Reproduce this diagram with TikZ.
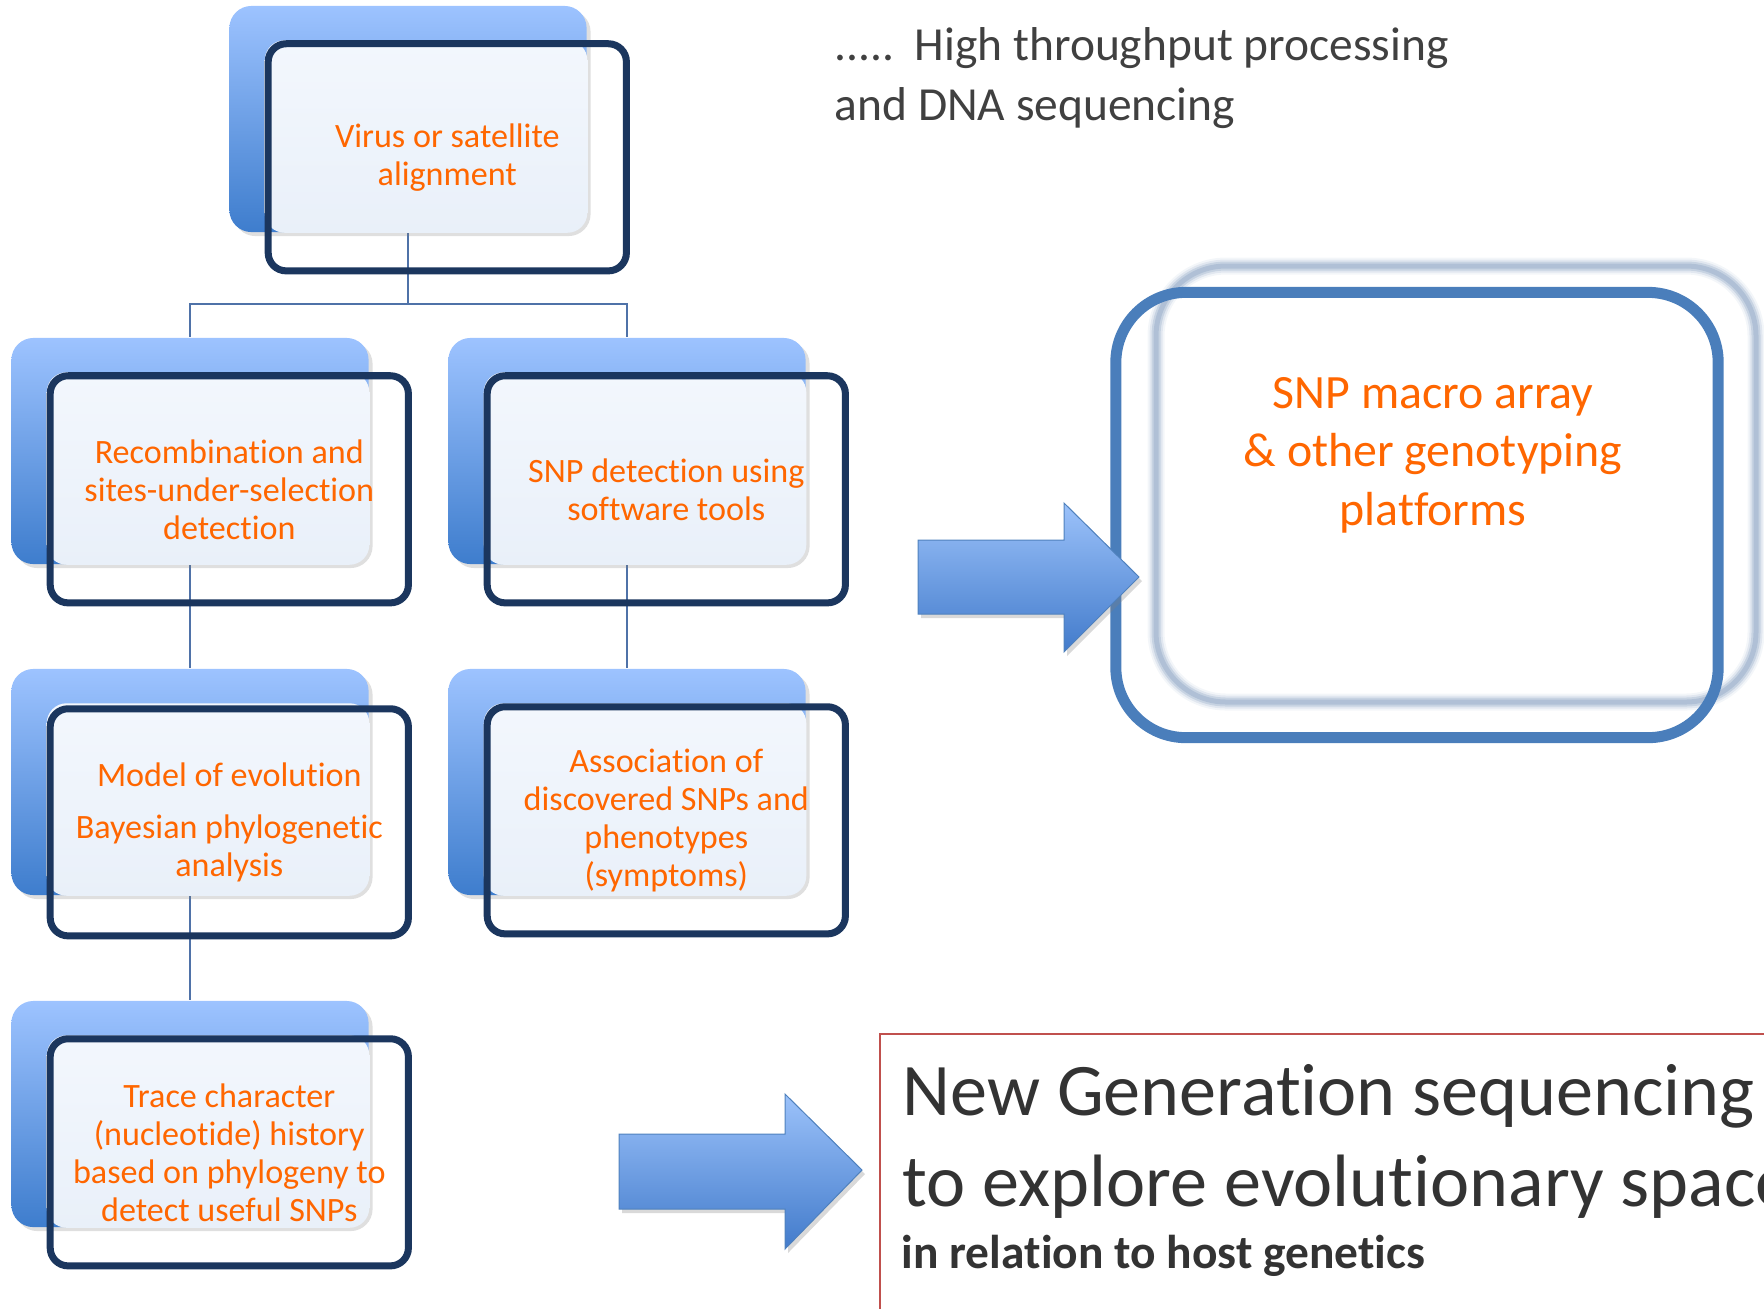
\documentclass[tikz,border=0pt]{standalone}
\usepackage{fontspec}
\setmainfont{Carlito}[Ligatures={NoCommon}]
\usetikzlibrary{shadows,backgrounds}

\definecolor{bleuclair}{RGB}{157,195,255}
\definecolor{bleufonce}{RGB}{62,125,205}
\definecolor{voilehaut}{RGB}{243,247,253}
\definecolor{voilebas}{RGB}{233,240,249}
\definecolor{cadrebleu}{RGB}{27,54,94}
\definecolor{lienbleu}{RGB}{79,114,168}
\definecolor{orangetxt}{RGB}{255,102,0}
\definecolor{snpbleu}{RGB}{74,126,187}
\definecolor{flougris}{RGB}{160,180,206}
\definecolor{flechehaut}{RGB}{156,194,250}
\definecolor{flechebas}{RGB}{66,123,203}
\definecolor{flechebord}{RGB}{79,129,189}
\definecolor{gristexte}{RGB}{64,64,64}
\definecolor{rougecadre}{RGB}{192,80,77}

\begin{document}
\begin{tikzpicture}[x=0.01cm,y=-0.01cm]
		\tikzstyle{fond} = [rectangle,rounded corners=0.22cm,minimum width=3.57cm,minimum height=2.26cm,inner sep=0pt,top color=bleuclair,bottom color=bleufonce,drop shadow={opacity=0.25,shadow xshift=0.04cm,shadow yshift=-0.04cm}]
		\tikzstyle{voile} = [rounded corners=0.2cm,top color=voilehaut,bottom color=voilebas]
		\tikzstyle{cadre} = [rectangle,rounded corners=0.18cm,draw=cadrebleu,line width=0.07cm,minimum width=3.58cm,minimum height=2.27cm,anchor=north west,align=center,text=orangetxt,font=\fontsize{9.7}{10.8}\selectfont]
		\tikzstyle{lien} = [draw=lienbleu,line width=0.02cm]
		\tikzstyle{flechebleue} = [draw=flechebord,line width=0.01cm,top color=flechehaut,bottom color=flechebas,drop shadow={opacity=0.3,shadow xshift=0.03cm,shadow yshift=-0.04cm}]
		\tikzstyle{flou} = [draw=flougris,rounded corners=0.7cm]
		\tikzstyle{snpcadre} = [rectangle,rounded corners=0.7cm,draw=snpbleu,line width=0.11cm,minimum width=6.02cm,minimum height=4.45cm]
		\tikzstyle{snptexte} = [align=center,text=orangetxt,font=\fontsize{13.6}{16.6}\selectfont]
		\tikzstyle{gristxt} = [align=left,text=gristexte,inner sep=0pt,font=\fontsize{13.5}{16.9}\selectfont]
		\tikzstyle{grand} = [anchor=base west,inner sep=0pt,text=gristexte!80!black,font=\fontsize{21.1}{25.8}\selectfont]
		
		\clip (0,0) rectangle (1764,1308);
		
		% arbre de gauche
		\node[fond] (vb) at (408,119) {};
		\path[voile] ([shift={(36,35)}]vb.north west) rectangle (vb.south east);
		\node[cadre] (v) at ([shift={(36,35)}]vb.north west) {Virus or satellite\\alignment};
		
		\node[fond] (rb) at (190,451) {};
		\path[voile] ([shift={(36,35)}]rb.north west) rectangle (rb.south east);
		\node[cadre] (r) at ([shift={(36,35)}]rb.north west) {Recombination and\\sites-under-selection\\detection};
		
		\node[fond] (sb) at (627,451) {};
		\path[voile] ([shift={(36,35)}]sb.north west) rectangle (sb.south east);
		\node[cadre] (s) at ([shift={(36,35)}]sb.north west) {SNP detection using\\software tools};
		
		\node[fond] (mb) at (190,782) {};
		\path[voile] ([shift={(36,35)}]mb.north west) rectangle (mb.south east);
		\node[cadre] (m) at ([shift={(36,37)}]mb.north west) {Model of evolution\\[4pt]Bayesian phylogenetic\\analysis};
		
		\node[fond] (ab) at (627,782) {};
		\path[voile] ([shift={(36,35)}]ab.north west) rectangle (ab.south east);
		\node[cadre] (a) at ([shift={(36,35)}]ab.north west) {Association of\\discovered SNPs and\\phenotypes\\(symptoms)};
		
		\node[fond] (tb) at (190,1114) {};
		\path[voile] ([shift={(36,35)}]tb.north west) rectangle (tb.south east);
		\node[cadre] (t) at ([shift={(36,35)}]tb.north west) {Trace character\\(nucleotide) history\\based on phylogeny to\\detect useful SNPs};
		
		\begin{scope}[on background layer]
			\coordinate (fourche) at (408,304);
			\draw[lien] (vb.south) -- (fourche) -| (rb.north);
			\draw[lien] (fourche) -| (sb.north);
			\draw[lien] (rb.south) -- (mb.north);
			\draw[lien] (mb.south) -- (tb.north);
			\draw[lien] (sb.south) -- (ab.north);
		\end{scope}
		
		% cadre SNP
		\foreach \w/\o in {0.17/0.12,0.13/0.22,0.09/0.4,0.05/0.6}
			\draw[flou,line width=\w cm,draw opacity=\o] (1156,266) rectangle (1756,702);
		\node[snpcadre] (snp) at (1417,515) {};
		\node[snptexte] (snpt) at (1433,455) {SNP macro array\\\& other genotyping\\platforms};
		
		% grosses fleches
		\path[flechebleue] (918,540) -- (1064,540) -- (1064,503) -- (1139,577) -- (1064,652) -- (1064,614) -- (918,614) -- cycle;
		\path[flechebleue] (619,1134) -- (785,1134) -- (785,1094) -- (862,1170) -- (785,1249) -- (785,1209) -- (619,1209) -- cycle;
		
		% textes
		\node[gristxt,anchor=west] (haut) at (834,78) {.....\hspace{0.43em}High throughput processing\\and DNA sequencing};
		
		\draw[rougecadre,line width=0.015cm] (880,1400) -- (880,1034) -- (1800,1034);
		\node[grand] (ngs) at (902,1115) {New Generation sequencing};
		\node[grand] (espace) at (902,1206) {to explore evolutionary space};
		\node[grand,font=\fontsize{13.5}{16}\selectfont\bfseries] (hote) at (901,1268) {in relation to host genetics};
		
\end{tikzpicture}
\end{document}
